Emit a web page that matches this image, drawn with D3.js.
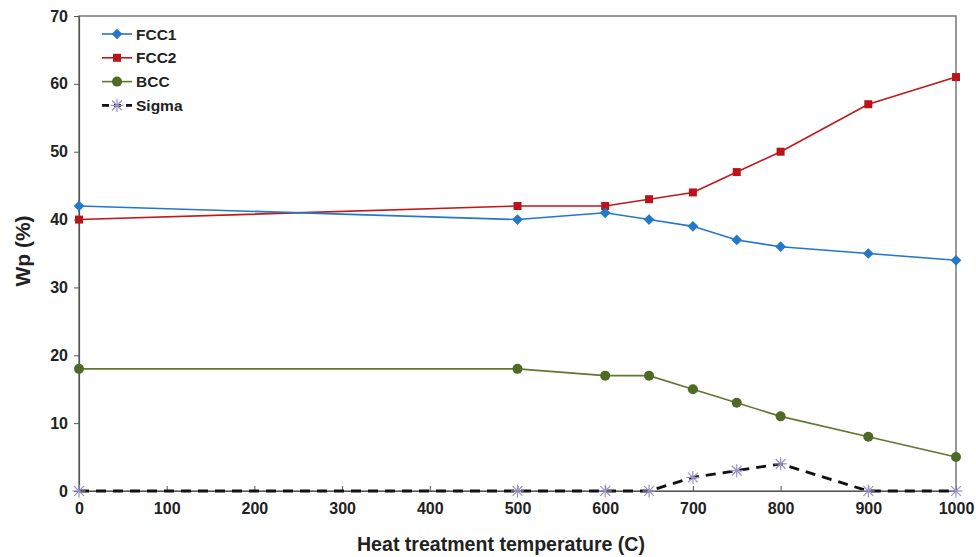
<!DOCTYPE html>
<html>
<head>
<meta charset="utf-8">
<script src="https://cdn.jsdelivr.net/npm/d3@7"></script>
<style>
  body { margin: 0; background: #fff; }
  text { font-family: "Liberation Sans", Arial, sans-serif; font-weight: bold; fill: #222; }
</style>
</head>
<body>
<script>
var width = 976, height = 557;
var margin = {left: 79, right: 20, top: 16, bottom: 66};

var temps = [0, 500, 600, 650, 700, 750, 800, 900, 1000];
var fcc1 = [42, 40, 41, 40, 39, 37, 36, 35, 34];
var fcc2 = [40, 42, 42, 43, 44, 47, 50, 57, 61];
var bcc = [18, 18, 17, 17, 15, 13, 11, 8, 5];
var sigma = [0, 0, 0, 0, 2, 3, 4, 0, 0];
var xTicks = [0, 100, 200, 300, 400, 500, 600, 700, 800, 900, 1000];
var yTicks = [0, 10, 20, 30, 40, 50, 60, 70];

var svg = d3.select("body").append("svg")
    .attr("width", width)
    .attr("height", height);

var x = d3.scaleLinear().domain([0, 1000]).range([margin.left, width - margin.right]);
var y = d3.scaleLinear().domain([0, 70]).range([height - margin.bottom, margin.top]);

// plot frame
svg.append("rect")
    .attr("x", x(0)).attr("y", y(70))
    .attr("width", x(1000) - x(0)).attr("height", y(0) - y(70))
    .attr("fill", "none").attr("stroke", "#555").attr("stroke-width", 1.2);

var xAxis = svg.append("g")
    .attr("transform", "translate(0," + y(0) + ")")
    .call(d3.axisBottom(x).tickValues(xTicks).tickFormat(d3.format("d"))
        .tickSizeInner(-5).tickSizeOuter(0).tickPadding(12));
var yAxis = svg.append("g")
    .attr("transform", "translate(" + x(0) + ",0)")
    .call(d3.axisLeft(y).tickValues(yTicks).tickSizeInner(5).tickSizeOuter(0).tickPadding(6));

[xAxis, yAxis].forEach(function(a) {
    a.select(".domain").attr("stroke", "#555").attr("stroke-width", 1.2);
    a.selectAll(".tick line").attr("stroke", "#555");
    a.selectAll(".tick text").style("font-size", "16px").style("font-family", "Liberation Sans, Arial, sans-serif")
        .style("font-weight", "bold").attr("fill", "#222");
});

svg.append("text")
    .attr("x", 501).attr("y", 551)
    .attr("text-anchor", "middle").style("font-size", "20.5px")
    .attr("textLength", 288).attr("lengthAdjust", "spacingAndGlyphs")
    .text("Heat treatment temperature (C)");
svg.append("text")
    .attr("transform", "translate(30,251) rotate(-90)")
    .attr("text-anchor", "middle").style("font-size", "21px")
    .text("Wp (%)");

var series = [
    {name: "FCC1", values: fcc1, color: "#2477c9", marker: "diamond", fill: "#2477c9"},
    {name: "FCC2", values: fcc2, color: "#c0181b", marker: "square", fill: "#b8141a"},
    {name: "BCC", values: bcc, color: "#60772d", marker: "circle", fill: "#4f6a26"},
    {name: "Sigma", values: sigma, color: "#111", marker: "star", fill: "#9a90c4", dash: "10,7"}
];

var line = d3.line().x(function(d) { return x(d[0]); }).y(function(d) { return y(d[1]); });

function drawMarker(g, type, cx, cy, color) {
    if (type === "diamond") {
        g.append("rect").attr("x", -3.8).attr("y", -3.8).attr("width", 7.6).attr("height", 7.6)
            .attr("transform", "translate(" + cx + "," + cy + ") rotate(45)").attr("fill", color);
    } else if (type === "square") {
        g.append("rect").attr("x", cx - 4).attr("y", cy - 4).attr("width", 8).attr("height", 8).attr("fill", color);
    } else if (type === "circle") {
        g.append("circle").attr("cx", cx).attr("cy", cy).attr("r", 5).attr("fill", color);
    } else {
        var s = 6.5;
        [[-s, 0, s, 0], [-s * 0.75, -s * 0.75, s * 0.75, s * 0.75], [-s * 0.75, s * 0.75, s * 0.75, -s * 0.75], [0, -s, 0, s]].forEach(function(l) {
            g.append("line").attr("x1", cx + l[0]).attr("y1", cy + l[1]).attr("x2", cx + l[2]).attr("y2", cy + l[3])
                .attr("stroke", color).attr("stroke-width", 1.2);
        });
    }
}

series.slice().reverse().forEach(function(s) {
    var pts = temps.map(function(t, i) { return [t, s.values[i]]; });
    var g = svg.append("g");
    g.append("path").datum(pts).attr("d", line)
        .attr("fill", "none").attr("stroke", s.color)
        .attr("stroke-width", s.dash ? 2.8 : 1.6)
        .attr("stroke-dasharray", s.dash || null);
    pts.forEach(function(p) { drawMarker(g, s.marker, x(p[0]), y(p[1]), s.fill); });
});

// legend
var legend = svg.append("g");
series.forEach(function(s, i) {
    var ly = 34 + i * 23.8;
    legend.append("line").attr("x1", 102).attr("x2", 132).attr("y1", ly).attr("y2", ly)
        .attr("stroke", s.color).attr("stroke-width", s.dash ? 2.8 : 1.6)
        .attr("stroke-dasharray", s.dash ? "7,5" : null);
    drawMarker(legend, s.marker, 117, ly, s.fill);
    legend.append("text").attr("x", 136).attr("y", ly + 5.5).style("font-size", "15.5px").text(s.name);
});
</script>
</body>
</html>
